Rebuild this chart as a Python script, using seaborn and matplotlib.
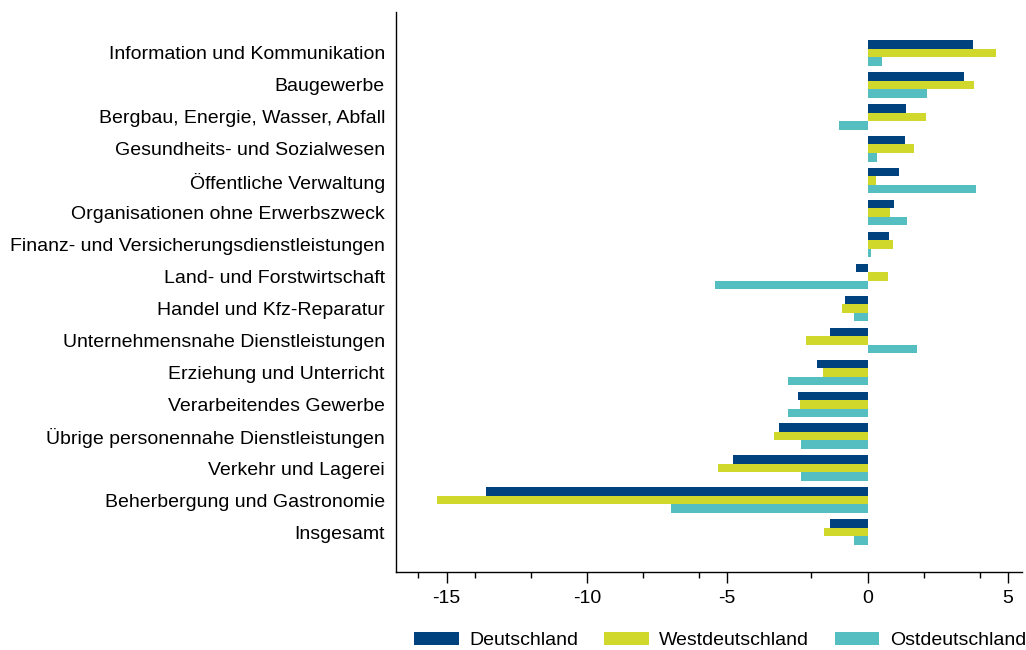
import pandas as pd
import matplotlib
matplotlib.use("Agg")
import matplotlib.pyplot as plt
import seaborn as sns

branchen = [
    "Information und Kommunikation",
    "Baugewerbe",
    "Bergbau, Energie, Wasser, Abfall",
    "Gesundheits- und Sozialwesen",
    "Öffentliche Verwaltung",
    "Organisationen ohne Erwerbszweck",
    "Finanz- und Versicherungsdienstleistungen",
    "Land- und Forstwirtschaft",
    "Handel und Kfz-Reparatur",
    "Unternehmensnahe Dienstleistungen",
    "Erziehung und Unterricht",
    "Verarbeitendes Gewerbe",
    "Übrige personennahe Dienstleistungen",
    "Verkehr und Lagerei",
    "Beherbergung und Gastronomie",
    "Insgesamt",
]
deutschland = [3.76, 3.44, 1.36, 1.33, 1.12, 0.93, 0.78, -0.40, -0.81, -1.35,
               -1.79, -2.49, -3.16, -4.78, -13.61, -1.32]
westdeutschland = [4.57, 3.80, 2.09, 1.64, 0.30, 0.81, 0.90, 0.72, -0.91, -2.19,
                   -1.57, -2.41, -3.35, -5.34, -15.33, -1.54]
ostdeutschland = [0.52, 2.11, -1.03, 0.33, 3.86, 1.40, 0.12, -5.44, -0.50, 1.78,
                  -2.85, -2.82, -2.38, -2.38, -7.02, -0.50]

regionen = ["Deutschland", "Westdeutschland", "Ostdeutschland"]
farben = ["#00427e", "#d0d82b", "#55bec0"]

df = pd.DataFrame({
    "Branche": branchen * 3,
    "Region": [r for r in regionen for _ in branchen],
    "Wert": deutschland + westdeutschland + ostdeutschland,
})

sns.set_style("white")
plt.rcParams["font.family"] = ["Liberation Sans", "DejaVu Sans"]
plt.rcParams["text.color"] = "black"
plt.rcParams["xtick.color"] = "black"
plt.rcParams["ytick.color"] = "black"

fig = plt.figure(figsize=(10.26, 6.5), dpi=100)
ax = fig.add_axes([0.386, 0.12, 0.61, 0.8615])

sns.barplot(data=df, y="Branche", x="Wert", hue="Region", hue_order=regionen,
            palette=farben, saturation=1, orient="h", width=0.8, linewidth=0, ax=ax)

ax.set_xlim(-16.8, 5.5)
ax.set_ylim(16.25, -1.28)
ax.set_xticks([-15, -10, -5, 0, 5])
ax.set_xticklabels(["-15", "-10", "-5", "0", "5"])
ax.set_xticks([-16, -14, -12, -8, -6, -2, 2, 4], minor=True)
ax.tick_params(axis="x", which="major", length=8, width=1, direction="out",
               labelsize=14, pad=5, bottom=True)
ax.tick_params(axis="x", which="minor", length=4, width=1, direction="out", bottom=True)
ax.tick_params(axis="y", length=0, labelsize=14, pad=8)
ax.set_xlabel("")
ax.set_ylabel("")
for s in ["top", "right"]:
    ax.spines[s].set_visible(False)
for s in ["left", "bottom"]:
    ax.spines[s].set_color("black")
    ax.spines[s].set_linewidth(1)

handles, labels = ax.get_legend_handles_labels()
ax.get_legend().remove()
fig.legend(handles, labels, loc="center", bbox_to_anchor=(0.702, 0.015), ncol=3,
           frameon=False, fontsize=14, handlelength=2.3, handleheight=0.65,
           columnspacing=1.3, handletextpad=0.55)

fig.savefig("out.png", dpi=100)
